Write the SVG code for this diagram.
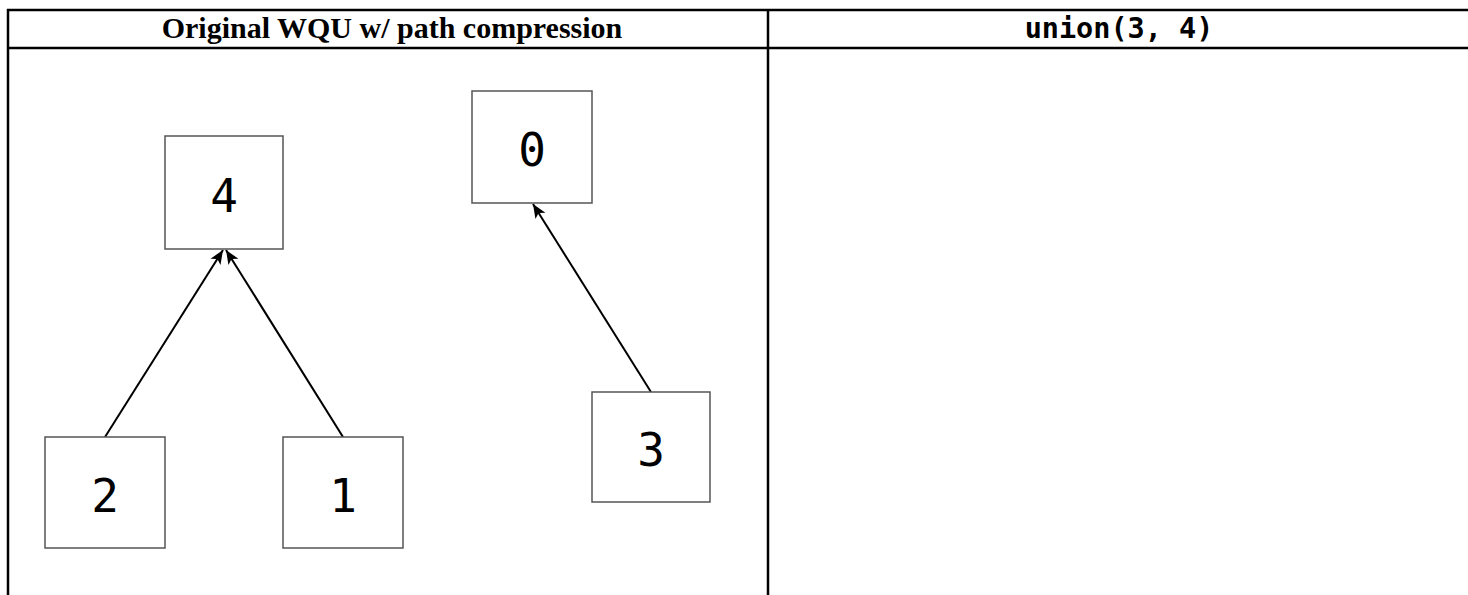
<svg xmlns="http://www.w3.org/2000/svg" width="1468" height="595" viewBox="0 0 1468 595">
<style>
.tbl{stroke:#000;stroke-width:2.5;fill:none}
.box{fill:#fff;stroke:#555;stroke-width:1.5}
.num{font-family:"DejaVu Sans Mono",monospace;font-size:46px;text-anchor:middle;fill:#000}
.edge{stroke:#000;stroke-width:2;fill:none;marker-end:url(#ah)}
.h1{font-family:"Liberation Serif",serif;font-weight:bold;font-size:30px;text-anchor:middle}
.h2{font-family:"DejaVu Sans Mono",monospace;font-weight:bold;font-size:28.5px;text-anchor:middle}
</style>
<defs>
<marker id="ah" viewBox="0 0 10 10" refX="10" refY="5" markerWidth="14" markerHeight="14" markerUnits="userSpaceOnUse" orient="auto">
<path d="M0,0.8 L10,5 L0,9.2 L2.5,5 z" fill="#000"/>
</marker>
</defs>
<rect width="1468" height="595" fill="#fff"/>
<g id="table">
<line class="tbl" x1="7" y1="10" x2="1468" y2="10"/>
<line class="tbl" x1="7" y1="48" x2="1468" y2="48"/>
<line class="tbl" x1="8" y1="9" x2="8" y2="595"/>
<line class="tbl" x1="768" y1="9" x2="768" y2="595"/>
<text class="h1" x="392" y="38">Original WQU w/ path compression</text>
<text class="h2" x="1119" y="38">union(3, 4)</text>
</g>
<g id="connectors">
<line class="edge" x1="105" y1="437" x2="223" y2="250"/>
<line class="edge" x1="343" y1="437" x2="226" y2="250"/>
<line class="edge" x1="651" y1="392" x2="533" y2="204"/>
</g>
<g id="node4"><rect class="box" x="165" y="136" width="118" height="113"/><text class="num" x="224" y="212">4</text></g>
<g id="node0"><rect class="box" x="472" y="91" width="120" height="112"/><text class="num" x="532" y="166">0</text></g>
<g id="node2"><rect class="box" x="45" y="437" width="120" height="111"/><text class="num" x="105" y="512">2</text></g>
<g id="node1"><rect class="box" x="283" y="437" width="120" height="111"/><text class="num" x="343" y="512">1</text></g>
<g id="node3"><rect class="box" x="592" y="392" width="118" height="110"/><text class="num" x="651" y="466">3</text></g>
</svg>
